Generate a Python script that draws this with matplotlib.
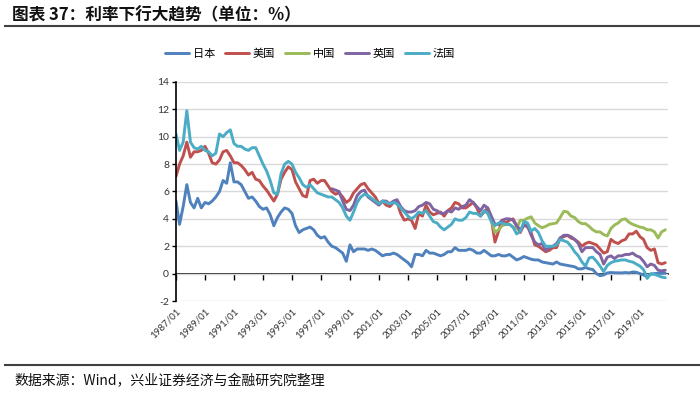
import matplotlib
matplotlib.use('Agg')
import matplotlib.pyplot as plt
import matplotlib.dates as mdates
from matplotlib.lines import Line2D
import pandas as pd

plt.rcParams['font.family'] = ['Noto Sans CJK SC', 'DejaVu Sans']
plt.rcParams['axes.unicode_minus'] = False

# ---------------- data (quarterly, % ) ----------------
series_names = ['日本', '美国', '中国', '英国', '法国']
colors = ['#4F81BD', '#C0504D', '#9BBB59', '#8064A2', '#4BACC6']

japan_start = '1987-01-01'
japan = [5.3, 3.6, 4.9, 6.5,
         5.2, 4.8, 5.5, 4.8,
         5.2, 5.1, 5.3, 5.6,
         6.0, 6.8, 6.6, 8.1,
         6.7, 6.7, 6.5, 6.0,
         5.5, 5.6, 5.3, 4.9,
         4.7, 4.8, 4.3, 3.5,
         4.1, 4.5, 4.8, 4.7,
         4.4, 3.5, 3.0, 3.2,
         3.3, 3.4, 3.2, 2.8,
         2.6, 2.7, 2.3, 2.0,
         1.9, 1.7, 1.5, 0.9,
         2.1, 1.6, 1.8, 1.8,
         1.8, 1.7, 1.8, 1.7,
         1.5, 1.3, 1.4, 1.4,
         1.5, 1.4, 1.2, 1.0,
         0.8, 0.5, 1.4, 1.4,
         1.3, 1.7, 1.5, 1.5,
         1.4, 1.3, 1.4, 1.6,
         1.6, 1.9, 1.7, 1.7,
         1.7, 1.8, 1.7, 1.5,
         1.5, 1.7, 1.5, 1.3,
         1.3, 1.4, 1.3, 1.3,
         1.4, 1.2, 1.0, 1.1,
         1.25, 1.15, 1.05, 1.0,
         1.0, 0.85, 0.8, 0.75,
         0.7, 0.85, 0.7, 0.65,
         0.6, 0.55, 0.5, 0.35,
         0.35, 0.45, 0.35, 0.3,
         0.0, -0.15, -0.1, 0.05,
         0.08, 0.06, 0.06, 0.05,
         0.08, 0.05, 0.12, 0.10,
         0.0, -0.1, -0.22, -0.05,
         0.0, 0.02, 0.02, 0.03]

us_start = '1987-01-01'
us = [7.1, 8.0, 8.6, 9.6,
      8.5, 8.9, 8.9, 9.0,
      9.3, 8.8, 8.1, 8.0,
      8.3, 8.9, 9.0, 8.6,
      8.1, 8.1, 7.9, 7.6,
      7.2, 7.4, 6.9, 6.8,
      6.4, 6.1, 5.7, 5.3,
      5.8, 6.9, 7.4, 7.8,
      7.6, 6.7, 6.2, 5.7,
      5.6, 6.8, 6.9, 6.6,
      6.8, 6.8, 6.4, 6.0,
      5.8, 5.9, 5.6, 5.2,
      5.4, 5.9, 6.2, 6.5,
      6.6, 6.2, 5.9, 5.6,
      5.1, 5.3, 5.0, 4.9,
      5.2, 5.2, 4.4, 3.9,
      4.0, 3.9, 3.3, 4.4,
      4.2, 5.0, 4.5, 4.3,
      4.4, 4.5, 4.2, 4.6,
      4.8, 5.2, 5.1, 4.8,
      4.8, 5.0, 5.2, 4.8,
      4.2, 4.5, 4.8, 4.0,
      2.3, 3.1, 3.9, 3.7,
      3.9, 4.0, 3.5, 3.0,
      3.6, 3.4, 3.0, 2.1,
      2.0, 1.8, 1.6, 1.7,
      1.9, 1.9, 2.6, 2.7,
      2.8, 2.6, 2.5, 2.3,
      2.0, 2.2, 2.3, 2.2,
      2.1, 1.8, 1.5, 1.6,
      2.5, 2.3, 2.2, 2.4,
      2.5, 2.9, 2.9, 3.1,
      2.7, 2.5, 1.9, 1.7,
      1.8, 0.8, 0.7, 0.8]

china_start = '2008-10-01'
china = [3.9,
         3.0, 3.2, 3.5, 3.6,
         3.6, 3.4, 3.3, 3.9,
         3.9, 4.05, 4.15, 3.7,
         3.5, 3.35, 3.45, 3.6,
         3.65, 3.7, 4.1, 4.55,
         4.5, 4.2, 4.1, 3.8,
         3.65, 3.65, 3.45, 3.2,
         3.05, 3.05, 2.85, 2.75,
         3.3, 3.55, 3.7, 3.95,
         4.0, 3.75, 3.6, 3.5,
         3.4, 3.35, 3.2, 3.2,
         3.05, 2.6, 3.05, 3.2]

uk_start = '1997-10-01'
uk = [6.2,
      6.1, 6.0, 5.3, 4.7,
      4.6, 5.0, 5.7, 6.0,
      6.1, 5.6, 5.4, 5.2,
      5.0, 5.3, 5.3, 5.1,
      5.3, 5.4, 4.9, 4.6,
      4.5, 4.5, 4.6, 4.9,
      5.0, 5.2, 5.1, 4.7,
      4.6, 4.4, 4.4, 4.6,
      4.5, 4.8, 4.7, 4.9,
      5.0, 5.4, 5.2, 4.9,
      4.6, 5.0, 4.8, 4.2,
      3.6, 3.6, 3.9, 4.0,
      4.0, 3.9, 3.5, 3.2,
      3.5, 3.5, 2.8, 2.3,
      2.1, 2.2, 1.7, 1.9,
      2.0, 2.2, 2.6, 2.8,
      2.8, 2.7, 2.5, 2.2,
      1.6, 1.9, 1.9, 1.9,
      1.6, 1.4, 0.7, 1.2,
      1.3, 1.1, 1.3, 1.3,
      1.4, 1.4, 1.5, 1.3,
      1.2, 0.9, 0.5, 0.7,
      0.6, 0.25, 0.2, 0.25]

france_start = '1987-01-01'
france = [10.2, 9.0, 9.6, 11.9,
          9.6, 9.2, 9.1, 9.3,
          9.0, 8.9, 8.6, 8.8,
          10.2, 10.0, 10.3, 10.5,
          9.5, 9.3, 9.3, 9.1,
          9.0, 9.2, 9.2, 8.6,
          8.0, 7.5, 6.8, 5.9,
          5.8, 7.3, 8.0, 8.2,
          8.0, 7.4, 7.0, 6.5,
          6.3, 6.5, 6.2, 5.9,
          5.8, 5.7, 5.6, 5.6,
          5.4, 5.2, 4.8, 4.2,
          3.9, 4.5, 5.2, 5.6,
          5.8, 5.7, 5.5, 5.3,
          5.1, 5.3, 5.2, 5.1,
          5.2, 5.1, 4.8, 4.5,
          4.2, 4.0, 4.2, 4.5,
          4.4, 4.6, 4.2, 3.8,
          3.7, 3.4, 3.2, 3.4,
          3.6, 4.0, 3.9, 3.9,
          4.1, 4.5, 4.4, 4.4,
          4.2, 4.6, 4.4, 3.8,
          3.5, 3.7, 3.7, 3.6,
          3.6, 3.4, 2.9, 3.1,
          3.8, 3.7, 3.1, 3.3,
          3.0, 2.4, 2.0, 2.0,
          2.0, 2.1, 2.5, 2.4,
          2.3, 2.0, 1.6, 1.3,
          0.85, 0.55, 1.15, 1.2,
          0.9, 0.55, 0.15, 0.6,
          0.8, 0.9, 0.95, 1.0,
          1.0, 0.9, 0.85, 0.7,
          0.55, 0.3, -0.35, 0.0,
          -0.05, -0.15, -0.25, -0.3]

tick_years = list(range(1987, 2020, 2))
tick_labels = [f'{y}/01' for y in tick_years]

# ---------------- figure ----------------
fig = plt.figure(figsize=(7.0, 3.99), dpi=100)
ax = fig.add_axes([0.2514, 0.2456, 0.703, 0.549])

data = [(japan_start, japan), (us_start, us), (china_start, china),
        (uk_start, uk), (france_start, france)]
handles = []
for (start, vals), name, c in zip(data, series_names, colors):
    dates = pd.date_range(start, periods=len(vals), freq='QS')
    h, = ax.plot(dates, vals, color=c, lw=2.1, label=name,
                 solid_joinstyle='round', solid_capstyle='round')
    handles.append(h)

ax.set_ylim(-2, 14)
ax.set_yticks(range(-2, 15, 2))
ax.set_xlim(pd.Timestamp('1987-01-01'), pd.Timestamp('2020-12-10'))
ax.yaxis.grid(True, color='#D9D9D9', lw=1.0)
ax.set_axisbelow(True)

for s in ['top', 'right', 'bottom']:
    ax.spines[s].set_visible(False)
ax.spines['left'].set_color('black')
ax.spines['left'].set_linewidth(1.2)
ax.tick_params(axis='y', direction='out', length=3, width=1, color='black',
               labelsize=7.5, labelcolor='#333333', pad=2)
for lab in ax.get_yticklabels():
    lab.set_family(['Lato', 'DejaVu Sans'])

tick_pos = [pd.Timestamp(f'{y}-01-01') for y in tick_years]
tick_num = mdates.date2num(tick_pos)
ax.set_xticks(tick_num)
ax.set_xticklabels(tick_labels, rotation=45, ha='right', rotation_mode='anchor',
                   fontsize=7, color='#333333', family=['Lato', 'DejaVu Sans'])
ax.tick_params(axis='x', length=0, pad=4)

# x axis line at y = 0 with outward tick marks
sec = ax.secondary_xaxis(2 / 16)
sec.set_xticks(tick_num)
sec.tick_params(axis='x', direction='out', length=4, width=1, color='black',
                labelbottom=False)
sec.spines['bottom'].set_color('black')
sec.spines['bottom'].set_linewidth(1.2)

# legend
fig.legend(handles=handles, labels=series_names, loc='center',
           bbox_to_anchor=(310 / 700, 1 - 54 / 399), ncol=5, frameon=False,
           fontsize=8, handlelength=2.2, handletextpad=0.3, columnspacing=0.9)

# title and decorations
fig.text(12 / 700, 1 - 15 / 399, '图表 37：利率下行大趋势（单位：%）',
         fontsize=12, fontweight='bold', va='center', ha='left', color='#111111')
fig.add_artist(Line2D([5 / 700, 1.0], [1 - 26 / 399, 1 - 26 / 399],
                      color='#404040', lw=1.5))
fig.add_artist(Line2D([5 / 700, 1.0], [1 - 365 / 399, 1 - 365 / 399],
                      color='#404040', lw=1.5))
fig.text(14 / 700, 1 - 381 / 399, '数据来源：Wind，兴业证券经济与金融研究院整理',
         fontsize=10, va='center', ha='left', color='#111111')

fig.savefig('out.png', dpi=100)
